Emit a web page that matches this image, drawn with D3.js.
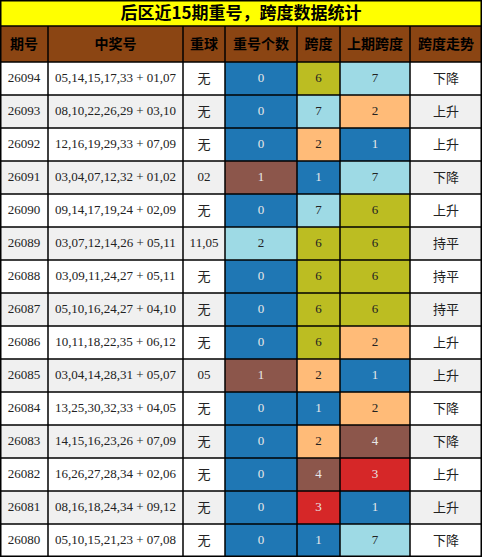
<!DOCTYPE html>
<html><head><meta charset="utf-8">
<script src="https://cdn.jsdelivr.net/npm/d3@7"></script>
<style>body{margin:0;background:#fff}</style>
</head><body>
<svg id="chart" width="482" height="557"></svg>
<script>
var title = "后区近15期重号，跨度数据统计";
var headers = ["期号", "中奖号", "重球", "重号个数", "跨度", "上期跨度", "跨度走势"];
var issues = ["26094","26093","26092","26091","26090","26089","26088","26087","26086","26085","26084","26083","26082","26081","26080"];
var draws = ["05,14,15,17,33 + 01,07","08,10,22,26,29 + 03,10","12,16,19,29,33 + 07,09","03,04,07,12,32 + 01,02","09,14,17,19,24 + 02,09","03,07,12,14,26 + 05,11","03,09,11,24,27 + 05,11","05,10,16,24,27 + 04,10","10,11,18,22,35 + 06,12","03,04,14,28,31 + 05,07","13,25,30,32,33 + 04,05","14,15,16,23,26 + 07,09","16,26,27,28,34 + 02,06","08,16,18,24,34 + 09,12","05,10,15,21,23 + 07,08"];
var repeatBalls = ["无","无","无","02","无","11,05","无","无","无","05","无","无","无","无","无"];
var repeatCount = [0,0,0,1,0,2,0,0,0,1,0,0,0,0,0];
var spans = [6,7,2,1,7,6,6,6,6,2,1,2,4,3,1];
var prevSpans = [7,2,1,7,6,6,6,6,2,1,2,4,3,1,7];
var trends = ["下降","上升","上升","下降","上升","持平","持平","持平","上升","上升","下降","下降","上升","上升","下降"];

var colEdges = [0, 48, 183, 225, 297, 340, 410, 482];
var svg = d3.select("#chart");
var W = 482, H = 557, titleH = 26, headH = 36;

var y = d3.scaleBand().domain(d3.range(issues.length)).range([titleH + headH, H]);
var countColor = d3.scaleOrdinal().domain([0,1,2]).range(["#1f77b4","#8c564b","#9edae5"]);
var spanColor = d3.scaleOrdinal().domain([1,2,3,4,6,7]).range(["#1f77b4","#ffbb78","#d62728","#8c564b","#bcbd22","#9edae5"]);
var darkFill = ["#1f77b4","#8c564b","#d62728"];

var serif = "'Liberation Serif','DejaVu Serif',serif";
var cjk = "'Noto Sans CJK SC',sans-serif";

// title
svg.append("rect").attr("x",0).attr("y",0).attr("width",W).attr("height",titleH).attr("fill","#ffff00");
svg.append("text").attr("x",W/2).attr("y",titleH/2+1).attr("text-anchor","middle").attr("dominant-baseline","middle")
    .style("font-family",cjk).style("font-weight","bold").style("font-size","17px").text(title);

// header
headers.forEach(function(h,i){
    svg.append("rect").attr("x",colEdges[i]).attr("y",titleH).attr("width",colEdges[i+1]-colEdges[i]).attr("height",headH).attr("fill","#8b4513");
    svg.append("text").attr("x",(colEdges[i]+colEdges[i+1])/2).attr("y",titleH+headH/2+1)
        .attr("text-anchor","middle").attr("dominant-baseline","middle")
        .style("font-family",cjk).style("font-weight","bold").style("font-size","14px").text(h);
});

// rows
issues.forEach(function(d,r){
    var y0 = y(r), h = y.bandwidth();
    var base = r % 2 ? "#f0f0f0" : "#ffffff";
    var cells = [
        {t:d, f:base, font:serif, size:"13px"},
        {t:draws[r], f:base, font:serif, size:"13px"},
        {t:repeatBalls[r], f:base, font:repeatBalls[r]==="无"?cjk:serif, size:"13px"},
        {t:repeatCount[r], f:countColor(repeatCount[r]), font:serif, size:"13px"},
        {t:spans[r], f:spanColor(spans[r]), font:serif, size:"13px"},
        {t:prevSpans[r], f:spanColor(prevSpans[r]), font:serif, size:"13px"},
        {t:trends[r], f:base, font:cjk, size:"13px"}
    ];
    cells.forEach(function(c,i){
        svg.append("rect").attr("x",colEdges[i]).attr("y",y0).attr("width",colEdges[i+1]-colEdges[i]).attr("height",h).attr("fill",c.f);
        svg.append("text").attr("x",(colEdges[i]+colEdges[i+1])/2).attr("y",y0+h/2+1)
            .attr("text-anchor","middle").attr("dominant-baseline","middle")
            .attr("fill", darkFill.indexOf(c.f) >= 0 ? "#e8e8e8" : "#222")
            .style("font-family",c.font).style("font-size",c.size).text(c.t);
    });
});

// grid lines
var g = svg.append("g").attr("stroke","#000").attr("stroke-width",1.5);
colEdges.forEach(function(x){
    var xx = Math.min(Math.max(x,0.75),W-0.75);
    g.append("line").attr("x1",xx).attr("x2",xx).attr("y1",x===0||x===W?0:titleH).attr("y2",H);
});
[0,titleH,titleH+headH].concat(d3.range(1,issues.length+1).map(function(i){return y(i-1)+y.bandwidth();})).forEach(function(v){
    var yy = Math.min(Math.max(v,0.75),H-0.75);
    g.append("line").attr("x1",0).attr("x2",W).attr("y1",yy).attr("y2",yy);
});
</script>
</body></html>
